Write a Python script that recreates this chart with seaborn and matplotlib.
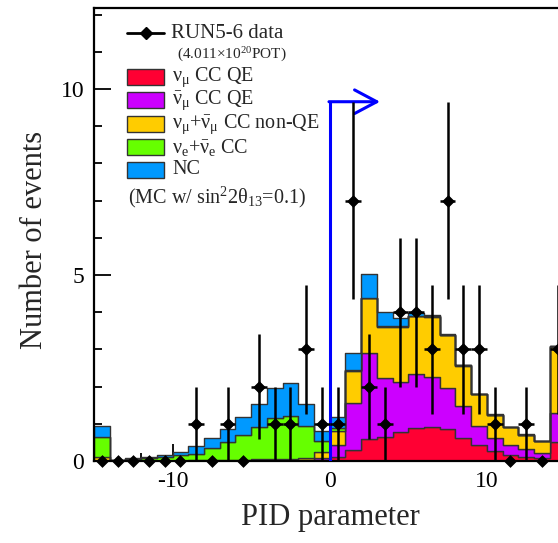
import numpy as np
import pandas as pd
import matplotlib
matplotlib.use("Agg")
import matplotlib.pyplot as plt
import seaborn as sns
from matplotlib.patches import Rectangle
from matplotlib.lines import Line2D
from matplotlib.ticker import MultipleLocator

# ---------------- data ----------------
bin_edges = list(range(-15, 16))
bin_centers = np.array(bin_edges[:-1], dtype=float) + 0.5

numu_ccqe = [0, 0, 0, 0, 0, 0, 0, 0, 0, 0, 0, 0, 0, 0.01, 0.02,
             0.12, 0.30, 0.59, 0.65, 0.79, 0.90, 0.92, 0.85, 0.61, 0.43, 0.26, 0.15, 0.11, 0.07, 0.52]
numubar_ccqe = [0, 0, 0, 0, 0, 0, 0, 0, 0, 0, 0, 0.01, 0.01, 0.01, 0.06,
                0.31, 1.27, 2.32, 1.59, 1.34, 1.43, 1.33, 1.10, 0.88, 0.52, 0.35, 0.29, 0.21, 0.15, 0.77]
numu_nonqe = [0.10, 0.005, 0.005, 0.01, 0.01, 0.01, 0.02, 0.02, 0.03, 0.03, 0.05, 0.04, 0.05, 0.06, 0.17,
              0.39, 0.85, 1.46, 1.37, 1.48, 1.57, 1.63, 1.44, 1.07, 0.84, 0.63, 0.47, 0.39, 0.31, 1.78]
nue_cc = [0.54, 0.025, 0.055, 0.06, 0.09, 0.14, 0.18, 0.32, 0.49, 0.67, 0.87, 1.11, 1.15, 0.87, 0.30,
          0.06, 0.02, 0.01, 0.01, 0.01, 0.01, 0.01, 0.01, 0.01, 0.01, 0.01, 0, 0, 0, 0.01]
nc = [0.31, 0.01, 0.02, 0.04, 0.07, 0.10, 0.21, 0.29, 0.34, 0.47, 0.60, 0.79, 0.88, 0.58, 0.27,
      0.31, 0.47, 0.66, 0.39, 0.23, 0.06, 0.03, 0.02, 0.01, 0.01, 0.01, 0.01, 0.01, 0.01, 0.02]
data_counts = [0, 0, 0, 0, 0, 0, 1, 0, 1, 0, 2, 1, 1, 3, 1,
               1, 7, 2, 1, 4, 4, 3, 7, 3, 3, 1, 0, 1, 0, 3]

component_names = ["numu_ccqe", "numubar_ccqe", "numu_nonqe", "nue_cc", "nc"]
component_values = [numu_ccqe, numubar_ccqe, numu_nonqe, nue_cc, nc]
component_colors = ["#ff0033", "#cc00ff", "#ffcc00", "#66ff00", "#0099ff"]
component_labels = [r"$\mathrm{\nu_{\mu}}$ CC QE",
                    r"$\bar{\mathrm{\nu}}_{\mathrm{\mu}}$ CC QE",
                    r"$\mathrm{\nu_{\mu}}$+$\bar{\mathrm{\nu}}_{\mathrm{\mu}}$ CC non-QE",
                    r"$\mathrm{\nu_{e}}$+$\bar{\mathrm{\nu}}_{\mathrm{e}}$ CC",
                    "NC"]

cut_value = 0.0
arrow_y = 9.66
arrow_len = 3.2

# ---------------- style ----------------
sns.set_style("ticks")
plt.rcParams["font.family"] = ["Liberation Serif", "DejaVu Serif"]
plt.rcParams["mathtext.fontset"] = "custom"
plt.rcParams["mathtext.rm"] = "Liberation Serif"
plt.rcParams["mathtext.it"] = "Liberation Serif:italic"
plt.rcParams["mathtext.bf"] = "Liberation Serif:bold"
plt.rcParams["axes.unicode_minus"] = False

W, H = 558, 543
fig = plt.figure(figsize=(W / 100, H / 100), dpi=100)
ax_left, ax_right, ax_bottom, ax_top = 94, 565.5, 461, 8
ax = fig.add_axes([ax_left / W, 1 - ax_bottom / H, (ax_right - ax_left) / W, (ax_bottom - ax_top) / H])

rows = []
for name, vals in zip(component_names, component_values):
    for c, v in zip(bin_centers, vals):
        rows.append({"x": float(c), "w": float(v), "comp": name})
df = pd.DataFrame(rows)

# seaborn puts the first hue level on top of the stack -> reverse order
sns.histplot(data=df, x="x", weights="w", hue="comp", hue_order=component_names[::-1],
             palette=dict(zip(component_names, component_colors)),
             bins=bin_edges, multiple="stack", element="step", fill=True,
             alpha=1.0, edgecolor="#333333", linewidth=1.0, legend=False, ax=ax, zorder=1)

# selection cut line + arrow
ax.plot([cut_value, cut_value], [0, arrow_y], color="#0000ff", lw=2.2, zorder=3, solid_capstyle="butt")
ax.annotate("", xy=(cut_value + arrow_len, arrow_y), xytext=(cut_value - 0.05, arrow_y),
            arrowprops=dict(arrowstyle="->,head_length=1.6,head_width=0.85", color="#0000ff",
                            lw=2.2, shrinkA=0, shrinkB=0), zorder=3)

# data
dc = np.array(data_counts, dtype=float)
ax.errorbar(bin_centers, dc, yerr=np.sqrt(dc), xerr=0.5, fmt="none", ecolor="black",
            elinewidth=1.8, capsize=0, zorder=4)
sns.scatterplot(x=bin_centers, y=dc, marker="D", color="black", s=36, edgecolor="black",
                linewidth=0.5, ax=ax, zorder=5, clip_on=False, legend=False)

ax.set_xlim(-15, 15)
ax.set_ylim(0, 12.18)
ax.xaxis.set_major_locator(MultipleLocator(10))
ax.xaxis.set_minor_locator(MultipleLocator(2))
ax.yaxis.set_major_locator(MultipleLocator(5))
ax.yaxis.set_minor_locator(MultipleLocator(1))
ax.tick_params(which="both", direction="in", width=1.3, colors="black", labelsize=17)
ax.tick_params(which="major", length=12, pad=7)
ax.tick_params(which="minor", length=6)
for s in ax.spines.values():
    s.set_linewidth(1.6)
    s.set_color("black")

ax.set_xlabel("PID parameter", fontsize=22, va="center")
ax.set_ylabel("Number of events", fontsize=22, va="center")
ax.xaxis.set_label_coords((330 - ax_left) / (ax_right - ax_left), -(517 - ax_bottom) / (ax_bottom - ax_top))
ax.yaxis.set_label_coords((35 - ax_left) / (ax_right - ax_left), (ax_bottom - 240) / (ax_bottom - ax_top))

# ---------------- legend (manual, ROOT style) ----------------
def fx(px):
    return px / W

def fy(py):
    return 1 - py / H

fig.add_artist(Line2D([fx(127), fx(164)], [fy(33), fy(33)], color="black", lw=2, transform=fig.transFigure))
fig.add_artist(Line2D([fx(146)], [fy(33)], marker="D", markersize=6, color="black", transform=fig.transFigure))
fig.text(fx(171), fy(33), "RUN5-6 data", fontsize=15, va="center", ha="left")
fig.text(fx(177), fy(55), r"(4.011×10$^{20}$POT)", fontsize=11, va="center", ha="left")
box_centers = [77, 100, 124, 147, 170]
for yc, col, lab in zip(box_centers, component_colors, component_labels):
    fig.add_artist(Rectangle((fx(127), fy(yc + 7.5)), fx(164) - fx(127), (15) / H,
                             facecolor=col, edgecolor="#333333", lw=1.0, transform=fig.transFigure))
    fig.text(fx(172), fy(yc), lab, fontsize=14.5, va="center", ha="left")
fig.text(fx(128), fy(197), r"(MC w/ sin$^{2}$2θ$_{13}$=0.1)", fontsize=14.5, va="center", ha="left")

fig.savefig("out.png", dpi=100)
